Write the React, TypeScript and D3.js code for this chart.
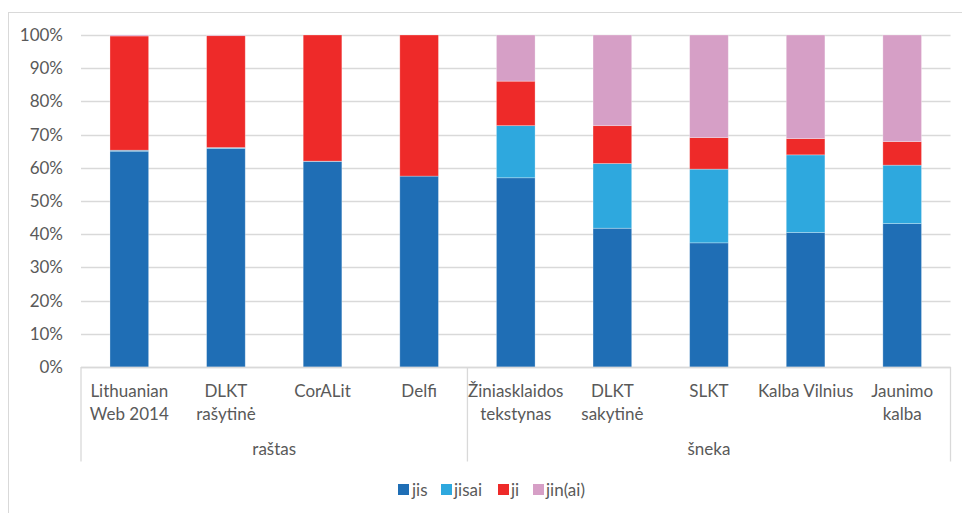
import React from "react";
import * as d3 from "d3";

const categories = [
  "Lithuanian\nWeb 2014",
  "DLKT\nrašytinė",
  "CorALit",
  "Delfi",
  "Žiniasklaidos\ntekstynas",
  "DLKT\nsakytinė",
  "SLKT",
  "Kalba Vilnius",
  "Jaunimo\nkalba",
];
const groups = [
  { label: "raštas", from: 0, to: 4 },
  { label: "šneka", from: 4, to: 9 },
];
const seriesNames = ["jis", "jisai", "ji", "jin(ai)"];
const jis = [65.0, 65.8, 61.9, 57.5, 57.0, 41.8, 37.4, 40.5, 43.2];
const jisai = [0.3, 0.3, 0.1, 0.0, 15.7, 19.5, 22.2, 23.4, 17.6];
const ji = [34.4, 33.7, 38.0, 42.5, 13.4, 11.4, 9.5, 4.9, 7.1];
const jinai = [0.3, 0.2, 0.0, 0.0, 13.9, 27.3, 30.9, 31.2, 32.1];
const yTicks = [0, 10, 20, 30, 40, 50, 60, 70, 80, 90, 100];
const colors = ["#1F6EB5", "#2EA8DE", "#EE2A29", "#D69FC6"];

const W = 962;
const H = 513;
const FONT = "Lato, 'Open Sans', sans-serif";
const TXT = "#595959";
const GRID = "#D9D9D9";

export default function App() {
  const left = 81;
  const right = 950.5;
  const top = 35;
  const bottom = 367;

  const x = d3.scaleBand<number>().domain(d3.range(categories.length)).range([left, right]).padding(0);
  const y = d3.scaleLinear().domain([0, 100]).range([bottom, top]);
  const barW = x.bandwidth() * 0.4;

  const rows = categories.map((_, i) => ({
    i,
    "jis": jis[i],
    "jisai": jisai[i],
    "ji": ji[i],
    "jin(ai)": jinai[i],
  }));
  const stacked = d3.stack<any>().keys(seriesNames)(rows);

  const legendItems = [
    { x: 398, tx: 412 },
    { x: 441, tx: 454 },
    { x: 498, tx: 511 },
    { x: 533, tx: 546 },
  ];

  const axisBottom = 461.5;

  return (
    <svg width={W} height={H} style={{ position: "absolute", left: 0, top: 0, background: "#fff" }}>
      <rect x={8.5} y={12.5} width={W + 10} height={H + 10} fill="#fff" stroke={GRID} strokeWidth={1} />
      {yTicks.map((t) => (
        <g key={t}>
          <line x1={left} x2={right} y1={Math.round(y(t)) + 0.5} y2={Math.round(y(t)) + 0.5} stroke={GRID} strokeWidth={1.3} />
          <text x={63} y={y(t) + 6} textAnchor="end" fontFamily={FONT} fontSize={17} fill={TXT}>
            {t}%
          </text>
        </g>
      ))}
      {stacked.map((s, si) => (
        <g key={s.key} fill={colors[si]}>
          {s.map((d, i) => {
            const h = y(d[0]) - y(d[1]);
            if (h <= 0) return null;
            return (
              <rect
                key={i}
                x={(x(i) as number) + (x.bandwidth() - barW) / 2}
                y={y(d[1])}
                width={barW}
                height={h}
                stroke="#ffffff"
                strokeOpacity={0.35}
                strokeWidth={0.8}
              />
            );
          })}
        </g>
      ))}
      <line x1={left} x2={right} y1={bottom + 0.5} y2={bottom + 0.5} stroke={GRID} strokeWidth={1.3} />
      {[0, 4, 9].map((k) => {
        const xx = k === 9 ? right : (x(k) as number);
        return <line key={k} x1={xx} x2={xx} y1={bottom} y2={axisBottom} stroke={GRID} strokeWidth={1.3} />;
      })}
      {categories.map((c, i) => {
        const cx = (x(i) as number) + x.bandwidth() / 2;
        return (
          <text key={i} x={cx} y={397} textAnchor="middle" fontFamily={FONT} fontSize={17} fill={TXT}>
            {c.split("\n").map((ln, li) => (
              <tspan key={li} x={cx} dy={li === 0 ? 0 : 23}>
                {ln}
              </tspan>
            ))}
          </text>
        );
      })}
      {groups.map((g) => {
        const x0 = x(g.from) as number;
        const x1 = g.to === categories.length ? right : (x(g.to) as number);
        return (
          <text key={g.label} x={(x0 + x1) / 2} y={455} textAnchor="middle" fontFamily={FONT} fontSize={17} fill={TXT}>
            {g.label}
          </text>
        );
      })}
      {seriesNames.map((n, i) => (
        <g key={n}>
          <rect x={legendItems[i].x} y={484} width={11} height={11} fill={colors[i]} />
          <text x={legendItems[i].tx} y={496} fontFamily={FONT} fontSize={17} fill={TXT}>
            {n}
          </text>
        </g>
      ))}
    </svg>
  );
}
